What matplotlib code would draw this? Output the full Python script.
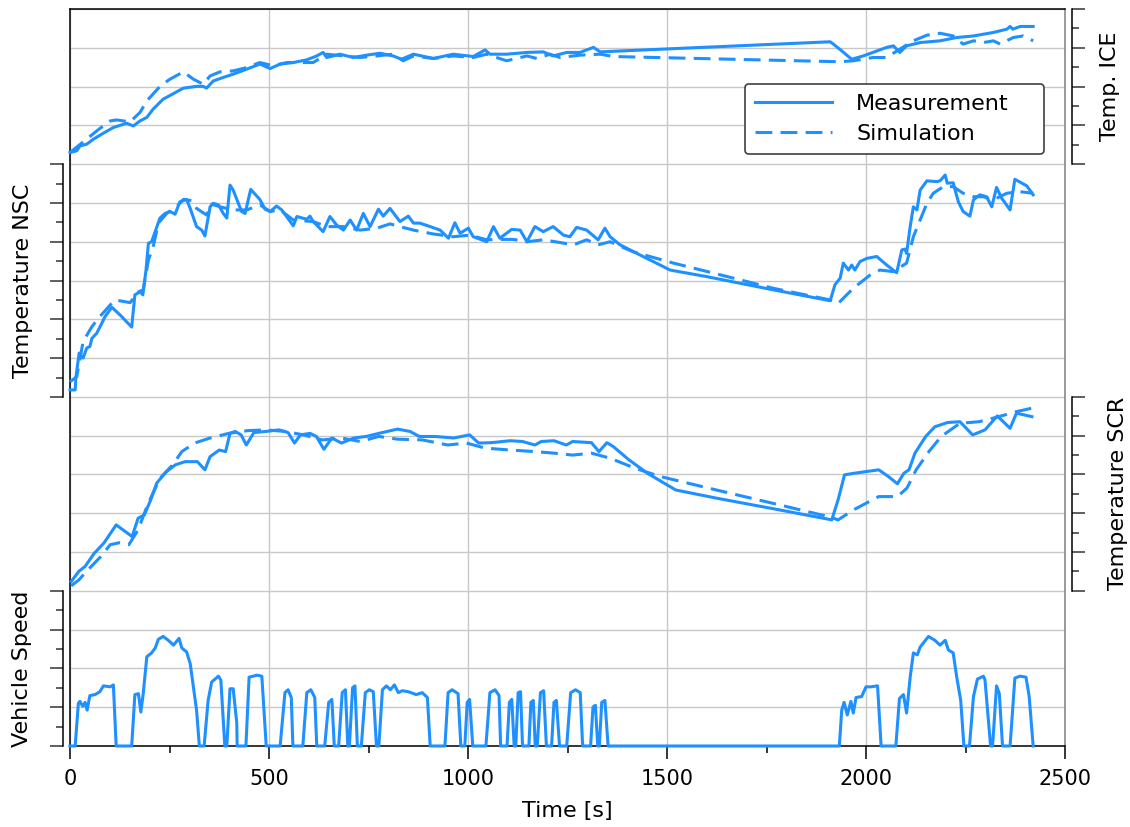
import matplotlib.pyplot as plt
from matplotlib.ticker import MultipleLocator

# ---- data (time in s, temperatures in degC, speed in km/h) ----
ice_meas_t = [0, 17, 25, 42, 59, 84, 109, 142, 159, 176, 193, 209, 234, 268, 285, 318, 335, 343, 360,
              385, 410, 444, 477, 503, 528, 561, 595, 620, 636, 645, 678, 712, 745, 779, 812, 833, 863,
              913, 963, 1013, 1043, 1055, 1097, 1148, 1189, 1214, 1248, 1281, 1315, 1332, 1910, 1918,
              1939, 1964, 1993, 2052, 2069, 2085, 2102, 2136, 2186, 2228, 2270, 2320, 2354, 2362, 2369,
              2387, 2420]
ice_meas = [26.0, 26.9, 29.4, 30.3, 32.9, 36.0, 38.9, 41.1, 39.7, 42.3, 44.1, 48.4, 53.5, 57.3, 59.2,
            60.1, 60.1, 59.2, 62.9, 64.7, 66.4, 69.0, 71.6, 69.3, 71.6, 72.4, 73.8, 75.8, 77.6, 75.0,
            76.7, 75.0, 76.2, 77.2, 75.8, 74.1, 76.7, 74.5, 76.7, 75.5, 78.9, 76.7, 76.7, 77.6, 77.9,
            75.8, 77.6, 77.6, 80.2, 77.9, 83.1, 81.9, 78.4, 74.1, 75.8, 80.2, 81.0, 77.6, 81.0, 82.7,
            83.6, 85.3, 86.1, 87.9, 89.6, 91.0, 89.6, 91.0, 91.0]

ice_sim_t = [0, 75, 101, 117, 151, 176, 193, 226, 251, 285, 310, 335, 352, 377, 410, 444, 477, 511, 544,
             578, 611, 645, 687, 729, 771, 812, 837, 863, 913, 963, 1013, 1047, 1097, 1148, 1173, 1206,
             1231, 1281, 1332, 1365, 1935, 1968, 2018, 2052, 2085, 2119, 2153, 2186, 2219, 2244, 2270,
             2295, 2320, 2337, 2370, 2395, 2420]
ice_sim = [26.0, 38.4, 42.3, 42.8, 41.8, 46.7, 52.6, 60.1, 63.8, 67.6, 63.8, 61.2, 65.5, 67.6, 68.1,
           69.8, 72.4, 70.7, 72.4, 72.4, 72.4, 76.7, 75.8, 75.0, 75.8, 76.7, 73.3, 75.8, 74.5, 75.8,
           75.0, 76.7, 73.3, 75.8, 74.5, 76.7, 75.0, 76.2, 76.7, 75.5, 72.8, 73.3, 75.0, 75.0, 79.3,
           83.6, 86.5, 87.5, 86.1, 81.9, 83.6, 82.7, 83.6, 81.9, 85.3, 86.1, 83.6]

nsc_meas_t = [0, 13, 15, 23, 33, 42, 50, 55, 67, 80, 88, 105, 126, 155, 163, 176, 183, 191, 197, 205,
              214, 226, 239, 251, 264, 276, 293, 302, 318, 331, 339, 352, 360, 373, 385, 394, 402, 410,
              431, 440, 454, 477, 490, 503, 519, 532, 553, 561, 570, 595, 603, 611, 636, 653, 670, 687,
              704, 720, 737, 754, 775, 787, 804, 829, 850, 863, 879, 905, 930, 951, 967, 980, 1001,
              1013, 1047, 1064, 1080, 1110, 1131, 1148, 1168, 1189, 1214, 1240, 1256, 1273, 1298, 1327,
              1344, 1357, 1382, 1432, 1508, 1600, 1767, 1910, 1922, 1935, 1943, 1956, 1964, 1972, 1985,
              2002, 2027, 2052, 2077, 2090, 2098, 2102, 2111, 2119, 2128, 2136, 2153, 2178, 2186, 2199,
              2204, 2219, 2232, 2244, 2261, 2270, 2286, 2303, 2316, 2328, 2341, 2362, 2374, 2404, 2420]
nsc_meas = [18, 18, 52, 113, 100, 126, 130, 151, 164, 190, 207, 231, 211, 180, 263, 271, 263, 327, 396,
            400, 426, 461, 473, 478, 471, 503, 509, 486, 439, 430, 415, 490, 499, 495, 473, 461, 546,
            533, 478, 473, 535, 509, 484, 478, 492, 482, 452, 441, 465, 458, 466, 452, 426, 465, 443,
            430, 456, 430, 473, 439, 484, 466, 486, 452, 466, 448, 448, 439, 430, 409, 449, 422, 435,
            413, 400, 439, 409, 432, 430, 400, 439, 426, 439, 417, 413, 437, 430, 405, 435, 413, 392,
            366, 327, 310, 276, 248, 289, 306, 345, 327, 340, 327, 349, 357, 362, 340, 320, 379, 381,
            370, 439, 490, 482, 533, 557, 555, 557, 572, 551, 552, 503, 478, 466, 508, 521, 516, 490,
            540, 512, 482, 561, 544, 521]

nsc_sim_t = [0, 17, 33, 55, 75, 101, 113, 151, 172, 184, 197, 209, 222, 243, 268, 285, 306, 318, 343,
             356, 377, 410, 444, 477, 503, 528, 561, 611, 645, 687, 729, 771, 804, 829, 863, 913, 963,
             1005, 1047, 1080, 1114, 1148, 1189, 1231, 1265, 1298, 1327, 1357, 1415, 1516, 1683, 1767,
             1910, 1930, 1968, 2010, 2035, 2069, 2102, 2119, 2153, 2169, 2194, 2219, 2244, 2270, 2295,
             2320, 2354, 2387, 2420]
nsc_sim = [39, 52, 143, 181, 207, 237, 250, 243, 271, 276, 353, 387, 448, 473, 490, 509, 506, 486, 469,
           497, 490, 482, 482, 495, 478, 482, 456, 452, 439, 439, 430, 435, 446, 439, 430, 420, 413,
           417, 405, 406, 406, 400, 405, 398, 392, 405, 392, 400, 374, 345, 302, 280, 250, 241, 280,
           314, 327, 323, 345, 413, 499, 525, 542, 542, 525, 516, 516, 508, 525, 529, 525]

scr_meas_t = [3, 22, 38, 61, 85, 116, 156, 171, 187, 203, 218, 242, 265, 289, 320, 339, 352, 375, 391,
              402, 415, 430, 443, 462, 493, 525, 548, 564, 579, 603, 619, 638, 658, 682, 713, 744, 776,
              823, 854, 878, 917, 964, 1004, 1027, 1059, 1106, 1137, 1168, 1184, 1216, 1247, 1263,
              1310, 1329, 1349, 1365, 1404, 1451, 1522, 1624, 1781, 1914, 1930, 1946, 1969, 2032, 2056,
              2079, 2095, 2108, 2123, 2150, 2173, 2205, 2236, 2268, 2299, 2330, 2362, 2378, 2417]
scr_meas = [24, 50, 63, 97, 123, 170, 140, 187, 196, 235, 278, 307, 325, 333, 333, 312, 346, 363, 359,
            406, 411, 402, 376, 408, 411, 415, 408, 381, 402, 406, 398, 365, 394, 381, 394, 398, 406,
            417, 411, 398, 398, 394, 402, 381, 382, 387, 385, 376, 385, 387, 376, 385, 382, 359, 382,
            372, 338, 303, 260, 239, 209, 183, 235, 299, 303, 312, 295, 276, 303, 312, 355, 398, 423,
            434, 436, 402, 415, 451, 419, 458, 449]

scr_sim_t = [3, 22, 45, 77, 101, 124, 148, 171, 195, 226, 258, 281, 313, 352, 399, 446, 493, 540, 587,
             634, 682, 729, 776, 823, 886, 949, 996, 1043, 1106, 1168, 1216, 1263, 1310, 1357, 1420,
             1482, 1624, 1781, 1907, 1930, 1969, 2032, 2079, 2103, 2126, 2158, 2189, 2236, 2284, 2330,
             2378, 2417]
scr_sim = [13, 28, 54, 88, 119, 124, 119, 157, 222, 290, 325, 359, 381, 394, 406, 413, 415, 411, 402,
           389, 394, 385, 398, 391, 389, 376, 381, 368, 363, 359, 355, 350, 355, 342, 316, 295, 260,
           222, 191, 183, 209, 243, 243, 265, 312, 359, 398, 432, 436, 448, 462, 471]

speed_t = [0, 13, 21, 25, 32, 38, 43, 50, 63, 75, 84, 101, 109, 116, 155, 163, 172, 178, 184, 193, 205,
           214, 222, 234, 247, 260, 268, 274, 281, 293, 302, 310, 318, 325, 337, 347, 356, 373, 379,
           389, 394, 402, 410, 419, 420, 442, 450, 470, 482, 493, 528, 540, 548, 556, 560, 585, 595,
           605, 615, 620, 640, 650, 658, 664, 675, 684, 692, 698, 702, 710, 716, 722, 732, 742, 752,
           762, 770, 776, 785, 795, 805, 815, 825, 835, 850, 870, 885, 898, 905, 942, 950, 960, 975,
           982, 992, 998, 1004, 1012, 1045, 1055, 1068, 1078, 1082, 1098, 1104, 1110, 1116, 1120, 1126,
           1132, 1137, 1153, 1158, 1164, 1169, 1174, 1182, 1190, 1197, 1210, 1216, 1222, 1230, 1248,
           1258, 1270, 1282, 1288, 1308, 1314, 1320, 1326, 1330, 1336, 1344, 1352, 1933, 1939, 1945,
           1953, 1962, 1968, 1975, 1989, 2000, 2012, 2029, 2038, 2075, 2084, 2094, 2102, 2111, 2119,
           2129, 2136, 2157, 2173, 2186, 2199, 2207, 2219, 2228, 2238, 2246, 2260, 2270, 2280, 2295,
           2299, 2313, 2318, 2328, 2335, 2343, 2362, 2374, 2387, 2402, 2410, 2420]
speed = [0, 0, 44, 46, 41, 45, 37, 52, 53, 56, 62, 61, 63, 0, 0, 53, 54, 35, 54, 92, 96, 101, 110, 113,
         109, 104, 108, 111, 101, 97, 85, 61, 37, 0, 0, 47, 66, 72, 68, 0, 0, 59, 59, 24, 0, 0, 71, 73,
         72, 0, 0, 55, 58, 50, 0, 0, 55, 58, 50, 0, 0, 45, 48, 0, 0, 55, 58, 0, 0, 60, 62, 0, 0, 55, 58,
         56, 0, 0, 58, 62, 58, 63, 55, 57, 56, 53, 55, 50, 0, 0, 55, 58, 54, 0, 0, 45, 48, 0, 0, 55,
         58, 52, 0, 0, 45, 48, 0, 0, 55, 56, 0, 0, 45, 47, 0, 0, 55, 57, 0, 0, 45, 47, 0, 0, 55, 58,
         55, 0, 0, 40, 42, 0, 0, 45, 47, 0, 0, 37, 45, 32, 46, 34, 50, 51, 61, 61, 62, 0, 0, 49, 53,
         34, 71, 96, 94, 102, 113, 109, 104, 109, 99, 96, 71, 47, 0, 0, 51, 69, 72, 68, 0, 0, 62, 54,
         0, 0, 70, 72, 71, 51, 0]

BLUE = '#1e90ff'
LW = 2.2
plt.rcParams['font.family'] = 'DejaVu Sans'

fig = plt.figure(figsize=(11.3, 8.27), dpi=100)
ax = fig.add_axes([70 / 1130, 81 / 827, 995 / 1130, 737 / 827])
ax.set_xlim(0, 2500)
ax.set_ylim(0, 19)
ax.xaxis.set_major_locator(MultipleLocator(500))
ax.xaxis.set_minor_locator(MultipleLocator(250))
ax.yaxis.set_major_locator(MultipleLocator(1))
ax.grid(which='major', color='#c8c8c8', lw=1)
ax.tick_params(axis='y', left=False, labelleft=False)
ax.tick_params(axis='x', which='both', direction='out', width=1.1, labelsize=15, pad=7)
ax.tick_params(axis='x', which='major', length=9.5)
ax.tick_params(axis='x', which='minor', length=5)
ax.spines['right'].set_color('#808080')
for s in ax.spines.values():
    s.set_linewidth(1.1)
ax.set_xlabel('Time [s]', fontsize=16, labelpad=9)


def band_axes(lo, hi, side, ylim, step, label, label_x):
    x0, y0, w, h = ax.get_position().bounds
    b = fig.add_axes([x0, y0 + h * lo / 19, w, h * (hi - lo) / 19])
    b.patch.set_visible(False)
    b.set_xlim(0, 2500)
    b.set_ylim(*ylim)
    for s in b.spines.values():
        s.set_visible(False)
    b.spines[side].set_visible(True)
    b.spines[side].set_position(('outward', 5))
    b.spines[side].set_linewidth(1.1)
    b.yaxis.set_ticks_position(side)
    b.yaxis.set_label_position(side)
    b.yaxis.set_major_locator(MultipleLocator(step))
    b.yaxis.set_minor_locator(MultipleLocator(step / 2))
    b.tick_params(axis='y', which='both', direction='out', width=1.1, colors='#333333',
                  labelleft=False, labelright=False)
    b.tick_params(axis='y', which='major', length=9.5)
    b.tick_params(axis='y', which='minor', length=5)
    b.tick_params(axis='x', which='both', bottom=False, labelbottom=False)
    b.set_ylabel(label, fontsize=16, va='center', ha='center', rotation=90)
    b.yaxis.set_label_coords(label_x, 0.5)
    return b


ax_ice = band_axes(15, 19, 'right', (20, 100), 20, 'Temp. ICE', 1.045)
ax_nsc = band_axes(9, 15, 'left', (0, 600), 100, 'Temperature NSC', -0.047)
ax_scr = band_axes(4, 9, 'right', (0, 500), 100, 'Temperature SCR', 1.053)
ax_spd = band_axes(0, 4, 'left', (0, 160), 40, 'Vehicle Speed', -0.048)

pairs = [(ax_ice, ice_meas_t, ice_meas, ice_sim_t, ice_sim),
         (ax_nsc, nsc_meas_t, nsc_meas, nsc_sim_t, nsc_sim),
         (ax_scr, scr_meas_t, scr_meas, scr_sim_t, scr_sim)]
for a, mt, mv, st, sv in pairs:
    a.plot(mt, mv, color=BLUE, lw=LW, label='Measurement', clip_on=False)
    a.plot(st, sv, color=BLUE, lw=LW, dashes=(5.5, 2.7), label='Simulation', clip_on=False)
ax_spd.plot(speed_t, speed, color=BLUE, lw=LW, clip_on=False)

# legend box spans x 745..1044 px, top at y 84 px (inside the ICE band)
leg_x = (745 - 70) / 995
leg_w = (1044 - 745) / 995
leg_top = (165 - 84) / 156
leg = ax_ice.legend(loc='upper left', bbox_to_anchor=(leg_x, leg_top, leg_w, 0), mode='expand',
                    borderaxespad=0, fontsize=16, handlelength=3.45, handletextpad=1.1,
                    labelspacing=0.48, borderpad=0.45, fancybox=True, framealpha=1,
                    edgecolor='#404040')
leg.get_frame().set_linewidth(1.2)
leg.set_zorder(10)

fig.savefig('out.png', dpi=100)
